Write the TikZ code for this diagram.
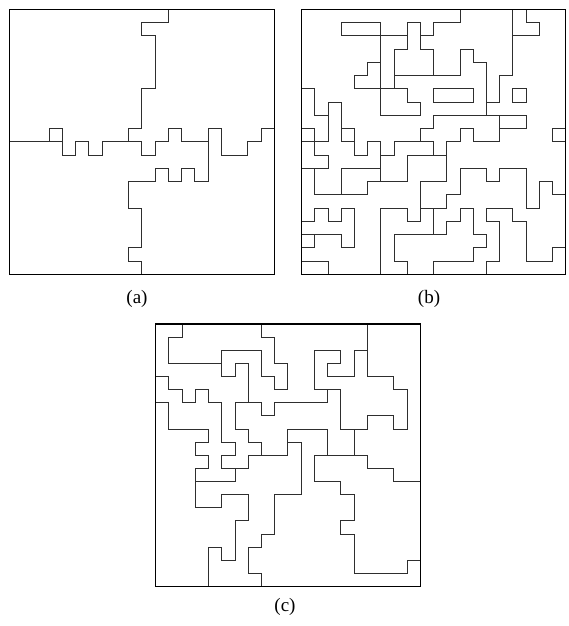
\documentclass[tikz,border=0pt]{standalone}
\usepackage{fontspec}
\setmainfont{Liberation Serif}
\begin{document}
\begin{tikzpicture}[x=1pt,y=-1pt,
  frame/.style={line width=1.1pt,black},
  wall/.style={line width=1pt,black!82,line cap=rect,line join=miter},
  lbl/.style={font=\fontsize{19}{22}\selectfont,inner sep=0pt}]
\useasboundingbox (0,0) rectangle (568,626);
% ---------------- panel (a)
\begin{scope}[xshift=9.33pt,yshift=-9.33pt,x=13.25pt,y=-13.25pt]
  \draw[wall] (12,0)--(12,1)--(10,1)--(10,2)--(11,2)--(11,6)--(10,6)--(10,9)--(9,9)--(9,10);
  \draw[wall] (0,10)--(4,10);
  \draw[wall] (3,10)--(3,9)--(4,9)--(4,11)--(5,11)--(5,10)--(6,10)--(6,11)--(7,11)--(7,10)--(10,10)--(10,11)--(11,11)--(11,10)--(12,10)--(12,9)--(13,9)--(13,10)--(15,10)--(15,9)--(16,9)--(16,11)--(18,11)--(18,10)--(19,10)--(19,9)--(20,9);
  \draw[wall] (15,10)--(15,13)--(14,13)--(14,12)--(13,12)--(13,13)--(12,13)--(12,12)--(11,12)--(11,13)--(9,13)--(9,15)--(10,15)--(10,18)--(9,18)--(9,19)--(10,19)--(10,20);
  \draw[frame] (0,0) rectangle (20,20);
\end{scope}
% ---------------- panel (b)
\begin{scope}[xshift=301.67pt,yshift=-9.33pt,x=13.2pt,y=-13.25pt]
  \foreach \y/\a/\b in {1/3/6,1/8/9,1/10/12,1/17/18,
    2/3/6,2/6/8,2/9/10,2/16/18,
    3/7/8,3/9/10,3/12/13,
    4/5/6,4/13/14,
    5/4/5,5/7/12,5/15/16,
    6/0/1,6/4/8,6/10/13,6/16/17,
    7/2/3,7/8/9,7/10/13,7/14/15,7/16/17,
    8/1/2,8/6/9,8/10/17,
    9/0/1,9/3/4,9/9/10,9/12/13,9/15/17,9/19/20,
    10/0/2,10/3/4,10/5/6,10/7/10,10/11/12,10/13/15,10/19/20,
    11/1/2,11/4/5,11/6/7,11/8/11,
    12/0/2,12/3/6,12/12/14,12/15/17,
    13/5/8,13/9/11,13/14/15,13/18/19,
    14/1/5,14/11/12,14/19/20,
    15/1/2,15/3/4,15/6/8,15/9/11,15/12/13,15/14/16,15/17/18,
    16/0/1,16/2/3,16/8/9,16/11/12,16/14/15,16/16/17,
    17/0/3,17/7/11,17/13/14,
    18/0/1,18/3/4,18/13/14,18/19/20,
    19/0/2,19/7/8,19/10/13,19/14/15,19/17/19}
    \draw[wall] (\a,\y)--(\b,\y);
  \foreach \x/\a/\b in {1/6/8,1/9/11,1/12/14,1/15/16,1/17/18,
    2/7/10,2/11/12,2/15/16,2/19/20,
    3/1/2,3/7/10,3/12/14,3/15/16,3/17/18,
    4/5/6,4/9/11,4/15/18,
    5/4/5,5/10/11,5/13/14,
    6/1/8,6/10/13,6/15/20,
    7/3/6,7/10/11,7/17/19,
    8/1/3,8/6/7,8/11/13,8/15/16,8/19/20,
    9/1/3,9/7/8,9/9/10,9/13/16,
    10/1/2,10/3/5,10/6/7,10/8/9,10/10/11,10/15/17,10/19/20,
    11/10/13,11/14/15,11/16/17,
    12/0/1,12/3/5,12/9/10,12/12/14,12/15/16,
    13/3/4,13/6/7,13/9/10,13/15/17,13/18/19,
    14/4/8,14/12/13,14/15/16,14/17/18,14/19/20,
    15/5/7,15/8/10,15/12/13,15/16/19,
    16/0/5,16/6/7,16/15/16,
    17/0/1,17/6/7,17/8/9,17/12/15,17/16/19,
    18/1/2,18/13/15,
    19/9/10,19/13/14,19/18/19}
    \draw[wall] (\x,\a)--(\x,\b);
  \draw[frame] (0,0) rectangle (20,20);
\end{scope}
% ---------------- panel (c)
\begin{scope}[xshift=155.67pt,yshift=-324pt,x=13.23pt,y=-13.13pt]
  \foreach \y/\a/\b in {1/1/2,1/8/9,
    2/5/8,2/12/14,2/15/16,
    3/1/5,3/6/7,3/9/10,3/13/14,
    4/0/1,4/5/6,4/8/9,4/13/15,4/16/18,
    5/1/2,5/3/4,5/9/10,5/12/14,5/18/19,
    6/0/1,6/2/3,6/4/5,6/6/8,6/9/13,
    7/8/9,7/16/18,
    8/1/4,8/6/7,8/10/13,8/14/16,8/18/19,
    9/3/4,9/5/6,9/7/8,9/10/11,
    10/3/4,10/5/6,10/7/10,10/12/16,
    11/3/4,11/5/7,11/16/18,
    12/3/6,12/12/14,12/18/20,
    13/5/7,13/9/11,13/14/15,
    14/3/5,
    15/6/7,15/14/15,
    16/8/9,16/14/15,
    17/4/5,17/7/8,
    18/5/6,18/19/20,
    19/7/8,19/15/19}
    \draw[wall] (\a,\y)--(\b,\y);
  \foreach \x/\a/\b in {1/1/3,1/4/5,1/6/8,
    2/0/1,2/5/6,
    3/5/6,3/9/10,3/11/14,
    4/5/6,4/8/9,4/10/11,4/17/20,
    5/2/4,5/6/9,5/10/11,5/13/14,5/17/18,
    6/3/4,6/6/8,6/9/10,6/11/12,6/15/18,
    7/3/6,7/8/9,7/10/11,7/13/15,7/17/19,
    8/0/1,8/2/4,8/6/7,8/9/10,8/16/17,8/19/20,
    9/1/3,9/4/5,9/6/7,9/13/16,
    10/3/5,10/8/10,
    11/9/13,
    12/2/5,12/10/12,
    13/3/4,13/5/6,13/8/10,
    14/2/3,14/5/8,14/12/13,14/15/16,
    15/2/4,15/8/10,15/13/15,15/16/19,
    16/0/4,16/7/8,16/10/11,
    18/4/5,18/7/8,18/11/12,
    19/5/8,19/18/19}
    \draw[wall] (\x,\a)--(\x,\b);
  \draw[frame] (0,0) rectangle (20,20);
\end{scope}
% ---------------- labels
\node[lbl] (la) at (137,299) {(a)};
\node[lbl] (lb) at (429,299) {(b)};
\node[lbl] (lc) at (285,607) {(c)};
\end{tikzpicture}
\end{document}
